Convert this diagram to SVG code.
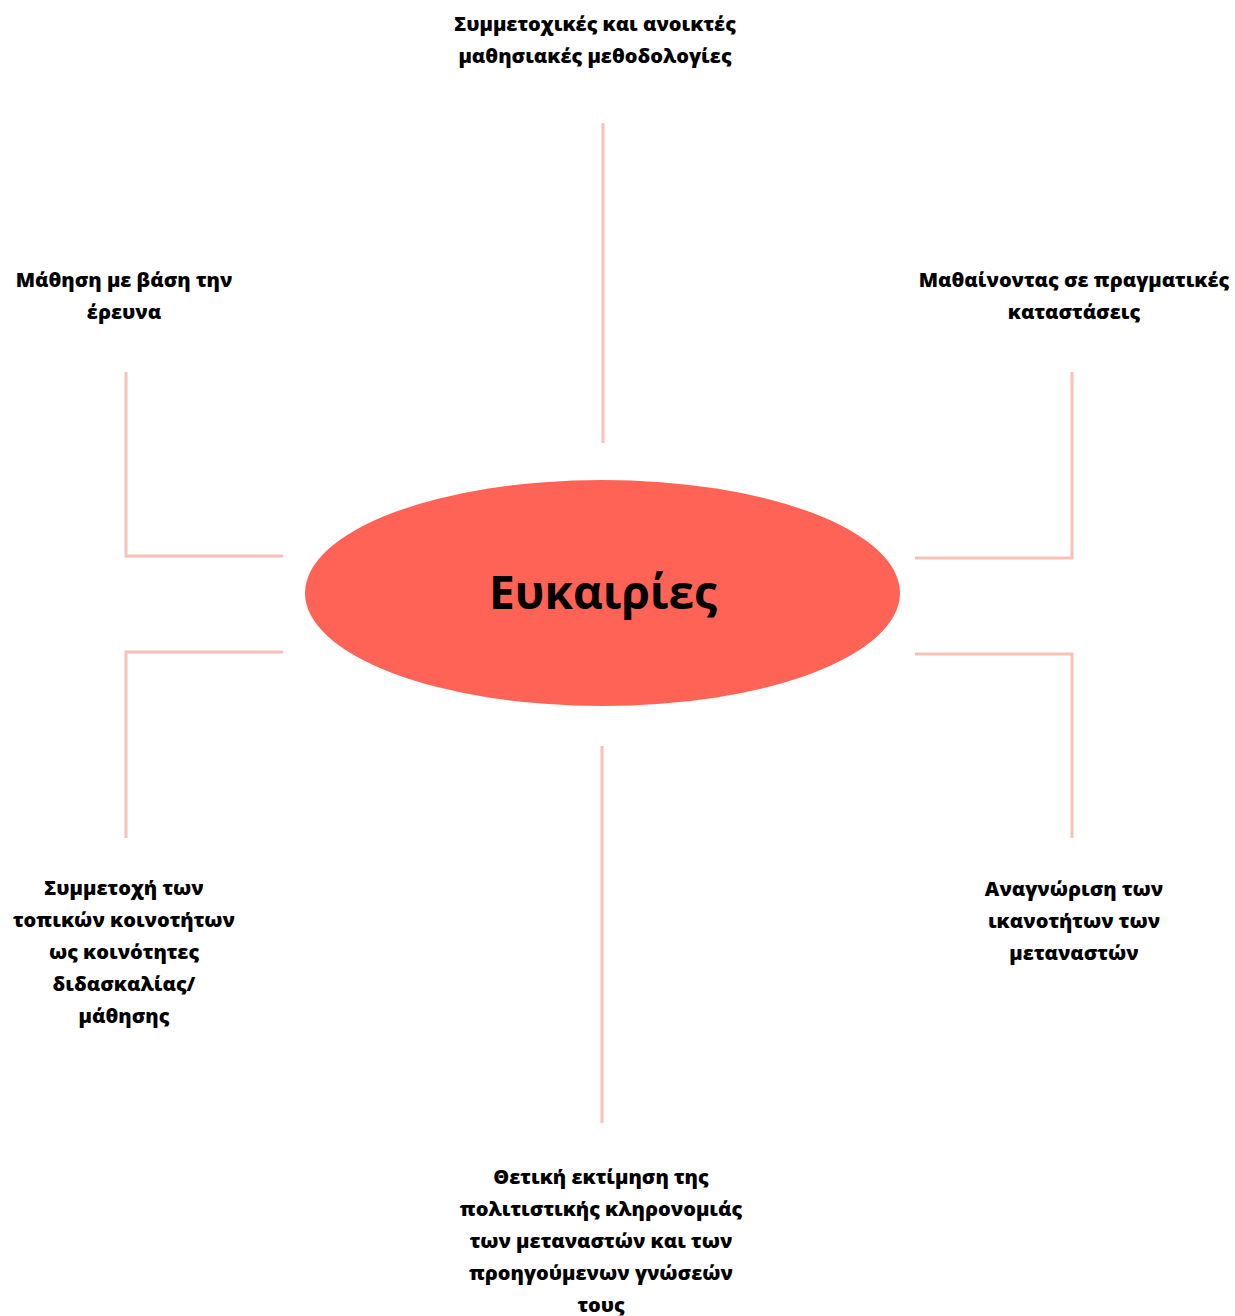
<svg xmlns="http://www.w3.org/2000/svg" width="1235" height="1316" viewBox="0 0 1235 1316">
<style>
.lbl{font-family:"Open Sans","Noto Sans","Liberation Sans",sans-serif;font-weight:800;font-size:20px;fill:#000;text-anchor:middle}
.ttl{font-family:"Open Sans","Noto Sans","Liberation Sans",sans-serif;font-weight:bold;font-size:46px;fill:#000;text-anchor:middle}
.con{fill:none;stroke:#FBC0B5;stroke-width:3}
</style>
<rect width="1235" height="1316" fill="#fff"/>
<g id="connectors">
<path class="con" d="M603 123V443"/>
<path class="con" d="M602 746V1123"/>
<path class="con" d="M126 372V556H283"/>
<path class="con" d="M1072 372V558H915"/>
<path class="con" d="M283 652H126V838"/>
<path class="con" d="M915 654H1072V838"/>
</g>
<g id="center">
<ellipse cx="602.5" cy="593" rx="297.5" ry="113" fill="#FF6355"/>
<text class="ttl" x="603" y="609">Ευκαιρίες</text>
</g>
<g id="top">
<text class="lbl" x="595" y="31">Συμμετοχικές και ανοικτές</text>
<text class="lbl" x="595" y="63">μαθησιακές μεθοδολογίες</text>
</g>
<g id="top-left">
<text class="lbl" x="124" y="287">Μάθηση με βάση την</text>
<text class="lbl" x="124" y="319">έρευνα</text>
</g>
<g id="top-right">
<text class="lbl" x="1074" y="287">Μαθαίνοντας σε πραγματικές</text>
<text class="lbl" x="1074" y="319">καταστάσεις</text>
</g>
<g id="bottom-left">
<text class="lbl" x="124" y="895">Συμμετοχή των</text>
<text class="lbl" x="124" y="927">τοπικών κοινοτήτων</text>
<text class="lbl" x="124" y="959">ως κοινότητες</text>
<text class="lbl" x="124" y="991">διδασκαλίας/</text>
<text class="lbl" x="124" y="1023">μάθησης</text>
</g>
<g id="bottom-right">
<text class="lbl" x="1074" y="896">Αναγνώριση των</text>
<text class="lbl" x="1074" y="928">ικανοτήτων των</text>
<text class="lbl" x="1074" y="960">μεταναστών</text>
</g>
<g id="bottom">
<text class="lbl" x="601" y="1184">Θετική εκτίμηση της</text>
<text class="lbl" x="601" y="1216">πολιτιστικής κληρονομιάς</text>
<text class="lbl" x="601" y="1248">των μεταναστών και των</text>
<text class="lbl" x="601" y="1280">προηγούμενων γνώσεών</text>
<text class="lbl" x="601" y="1312">τους</text>
</g>
</svg>
